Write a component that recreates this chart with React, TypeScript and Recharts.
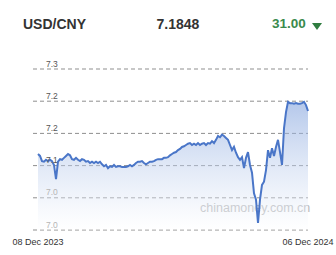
import React from "react";
import { AreaChart, Area, XAxis, YAxis, CartesianGrid } from "recharts";

const pairLabel = "USD/CNY";
const lastRate = "7.1848";
const changeLabel = "31.00";
const watermark = "chinamoney.com.cn";
const dateLabels = ["08 Dec 2023", "06 Dec 2024"];
const yTicks = [7.0, 7.05, 7.1, 7.15, 7.2, 7.25];

const rates = [
  7.118, 7.115, 7.107, 7.106, 7.109, 7.107, 7.109, 7.107, 7.101, 7.079,
  7.106, 7.110, 7.109, 7.112, 7.115, 7.118, 7.116, 7.110, 7.109, 7.112,
  7.109, 7.107, 7.110, 7.109, 7.106, 7.107, 7.104, 7.106, 7.104, 7.106,
  7.104, 7.106, 7.102, 7.099, 7.101, 7.096, 7.099, 7.098, 7.101, 7.098,
  7.099, 7.099, 7.098, 7.098, 7.098, 7.099, 7.101, 7.099, 7.101, 7.104,
  7.106, 7.106, 7.107, 7.104, 7.102, 7.104, 7.106, 7.106, 7.107, 7.109,
  7.110, 7.110, 7.110, 7.112, 7.112, 7.113, 7.116, 7.118, 7.120, 7.121,
  7.124, 7.126, 7.129, 7.130, 7.132, 7.134, 7.135, 7.132, 7.134, 7.132,
  7.135, 7.132, 7.134, 7.135, 7.132, 7.135, 7.134, 7.138, 7.135, 7.140,
  7.146, 7.144, 7.148, 7.146, 7.143, 7.140, 7.132, 7.124, 7.129, 7.120,
  7.113, 7.109, 7.113, 7.096, 7.112, 7.121, 7.101, 7.089, 7.057, 7.047,
  7.011, 7.047, 7.070, 7.075, 7.093, 7.124, 7.112, 7.127, 7.115, 7.129,
  7.140, 7.121, 7.101, 7.158, 7.183, 7.199, 7.197, 7.197, 7.196, 7.197,
  7.196, 7.196, 7.197, 7.199, 7.194, 7.1848,
];

const data = rates.map((v, i) => ({ i, v }));
const lastIndex = rates.length - 1;
const FONT = "'Liberation Sans', Arial, sans-serif";

const YTick = (props: any) => {
  const { y, payload } = props;
  const v = payload.value as number;
  return (
    <text x={46} y={y - 2.5} fontSize={8.5} fontFamily={FONT} fill={v < 7.09 ? "#b5b5b5" : "#555"}>
      {v.toFixed(1)}
    </text>
  );
};

const XTick = (props: any) => {
  const { x, payload } = props;
  const label = payload.value === 0 ? dateLabels[0] : dateLabels[1];
  return (
    <text x={x} y={245} fontSize={9} fontFamily={FONT} fill="#333" textAnchor="middle">
      {label}
    </text>
  );
};

export default function App() {
  return (
    <div style={{ position: "absolute", left: 0, top: 0, width: 336, height: 255, background: "#fff", fontFamily: FONT }}>
      <div style={{ position: "absolute", left: 23, top: 16, fontSize: 14, fontWeight: "bold", color: "#333" }}>{pairLabel}</div>
      <div style={{ position: "absolute", left: 156.5, top: 16, fontSize: 14, fontWeight: "bold", color: "#333" }}>{lastRate}</div>
      <div style={{ position: "absolute", left: 272, top: 16, fontSize: 13.5, fontWeight: "bold", color: "#3a8a4c" }}>{changeLabel}</div>
      <div style={{ position: "absolute", left: 312, top: 23, width: 0, height: 0, borderLeft: "5.5px solid transparent", borderRight: "5.5px solid transparent", borderTop: "7px solid #2f7d40" }} />
      <div style={{ position: "absolute", left: 200, top: 201, fontSize: 12.5, color: "#b8b8b8", zIndex: 0 }}>{watermark}</div>
      <div style={{ position: "absolute", left: 0, top: 0, zIndex: 1 }}>
        <AreaChart width={336} height={255} data={data} margin={{ top: 69, right: 28, bottom: 0, left: 33 }}>
          <defs>
            <linearGradient id="fillGrad" x1="0" y1="0" x2="0" y2="1">
              <stop offset="0%" stopColor="#7c9edb" stopOpacity={0.95} />
              <stop offset="100%" stopColor="#ffffff" stopOpacity={0.6} />
            </linearGradient>
          </defs>
          <CartesianGrid horizontal vertical={false} stroke="#8f8f8f" strokeDasharray="4 3" />
          <XAxis
            dataKey="i"
            type="number"
            domain={[0, lastIndex]}
            ticks={[0, lastIndex]}
            padding={{ left: 5, right: 0 }}
            axisLine={false}
            tickLine={false}
            height={25}
            tick={<XTick />}
          />
          <YAxis
            type="number"
            domain={[7.0, 7.25]}
            ticks={yTicks}
            mirror
            width={30}
            interval={0}
            axisLine={false}
            tickLine={false}
            tick={<YTick />}
          />
          <Area
            type="linear"
            dataKey="v"
            baseValue={7.0}
            stroke="#4a76c8"
            strokeWidth={2}
            fill="url(#fillGrad)"
            isAnimationActive={false}
            dot={false}
            activeDot={false}
          />
        </AreaChart>
      </div>
    </div>
  );
}
